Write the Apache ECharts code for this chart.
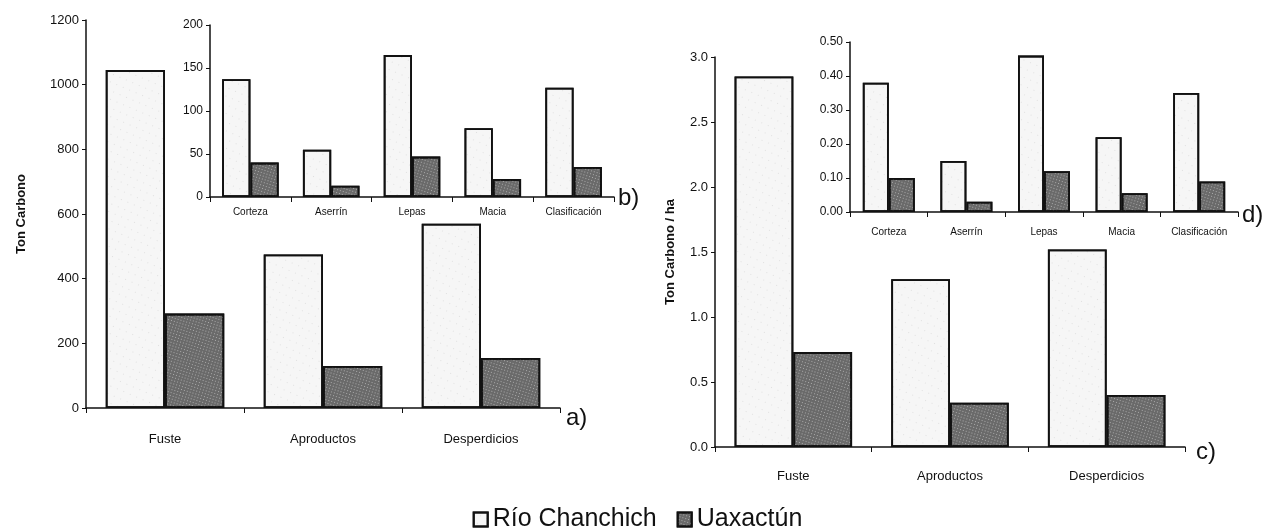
<!DOCTYPE html>
<html>
<head>
<meta charset="utf-8">
<script src="https://cdn.jsdelivr.net/npm/echarts@6/dist/echarts.min.js"></script>
<style>
  html, body { margin: 0; padding: 0; background: #fff; }
  #chart { width: 1275px; height: 529px; }
</style>
</head>
<body>
<div id="chart"></div>
<script>
// ---- data ----
const categoriesMain = ['Fuste', 'Aproductos', 'Desperdicios'];
const categoriesInset = ['Corteza', 'Aserrín', 'Lepas', 'Macia', 'Clasificación'];
const seriesNames = ['Río Chanchich', 'Uaxactún'];

// a) Ton Carbono
const rioTon = [1045, 475, 570];
const uaxTon = [292, 130, 155];
// b) Ton Carbono (inset)
const rioTonInset = [137, 55, 165, 80, 127];
const uaxTonInset = [40, 13, 47, 21, 35];
// c) Ton Carbono / ha
const rioHa = [2.85, 1.29, 1.52];
const uaxHa = [0.73, 0.34, 0.40];
// d) Ton Carbono / ha (inset)
const rioHaInset = [0.38, 0.15, 0.46, 0.22, 0.35];
const uaxHaInset = [0.10, 0.03, 0.12, 0.055, 0.09];

const yTicksA = { min: 0, max: 1200, interval: 200 };
const yTicksB = { min: 0, max: 200, interval: 50 };
const yTicksC = { min: 0, max: 3, interval: 0.5 };
const yTicksD = { min: 0, max: 0.5, interval: 0.1 };

// ---- styles ----
const FONT = '"Liberation Sans", Arial, sans-serif';
const rioStyle = {
  color: '#f6f6f6', borderColor: '#111', borderWidth: 1.8,
  decal: { symbol: 'circle', symbolSize: 0.6, dashArrayX: [1, 6], dashArrayY: [1, 7], rotation: 0.4, color: 'rgba(0,0,0,0.4)' }
};
const uaxStyle = {
  color: '#6a6a6a', borderColor: '#111', borderWidth: 1.8,
  decal: { symbol: 'rect', symbolSize: 0.9, dashArrayX: [1, 2], dashArrayY: [1, 2], rotation: 0.3, color: 'rgba(225,225,225,0.6)' }
};

const axisLine = { show: true, lineStyle: { color: '#111', width: 1.5 } };

function xAxis(gridIndex, data, fontSize, margin) {
  return {
    type: 'category', gridIndex, data,
    axisLine, axisTick: { show: true, length: 5, lineStyle: { color: '#111' } },
    axisLabel: { color: '#111', fontSize, fontFamily: FONT, margin },
    splitLine: { show: false }
  };
}
function yAxis(gridIndex, ticks, fontSize, digits, name, nameGap) {
  return {
    type: 'value', gridIndex, min: ticks.min, max: ticks.max, interval: ticks.interval,
    axisLine, axisTick: { show: true, length: 4, lineStyle: { color: '#111' } },
    axisLabel: { color: '#111', fontSize, fontFamily: FONT, margin: 7,
      formatter: v => v.toFixed(digits) },
    splitLine: { show: false },
    name: name || '', nameLocation: 'middle', nameGap: nameGap || 0,
    nameTextStyle: { color: '#111', fontSize: 13, fontWeight: 'bold', fontFamily: FONT }
  };
}
function bars(idx, rio, uax, gap) {
  return [
    { name: seriesNames[0], type: 'bar', xAxisIndex: idx, yAxisIndex: idx, data: rio,
      barGap: '0%', barCategoryGap: gap, itemStyle: rioStyle },
    { name: seriesNames[1], type: 'bar', xAxisIndex: idx, yAxisIndex: idx, data: uax,
      barGap: '0%', barCategoryGap: gap, itemStyle: uaxStyle }
  ];
}

const chart = echarts.init(document.getElementById('chart'), null, { renderer: 'canvas' });
chart.setOption({
  backgroundColor: '#fff',
  animation: false,
  legend: {
    data: seriesNames, top: 502, left: 'center', icon: 'rect',
    itemWidth: 14, itemHeight: 14, itemGap: 20,
    textStyle: { fontSize: 25, color: '#111', fontFamily: FONT }
  },
  grid: [
    { left: 86, top: 20, width: 474, height: 388 },
    { left: 210, top: 25, width: 404, height: 172 },
    { left: 715, top: 57, width: 470, height: 390 },
    { left: 850, top: 42, width: 388, height: 170 }
  ],
  xAxis: [
    xAxis(0, categoriesMain, 13, 25),
    xAxis(1, categoriesInset, 10, 10),
    xAxis(2, categoriesMain, 13, 23),
    xAxis(3, categoriesInset, 10, 15)
  ],
  yAxis: [
    yAxis(0, yTicksA, 13, 0, 'Ton Carbono', 58),
    yAxis(1, yTicksB, 12, 0),
    yAxis(2, yTicksC, 13, 1, 'Ton Carbono / ha', 38),
    yAxis(3, yTicksD, 12, 2)
  ],
  series: [].concat(
    bars(0, rioTon, uaxTon, '25%'),
    bars(1, rioTonInset, uaxTonInset, '30%'),
    bars(2, rioHa, uaxHa, '25%'),
    bars(3, rioHaInset, uaxHaInset, '33%')
  ),
  graphic: [
    { type: 'text', left: 566, top: 406, style: { text: 'a)', fontSize: 24, fill: '#111', fontFamily: FONT } },
    { type: 'text', left: 618, top: 186, style: { text: 'b)', fontSize: 24, fill: '#111', fontFamily: FONT } },
    { type: 'text', left: 1196, top: 440, style: { text: 'c)', fontSize: 24, fill: '#111', fontFamily: FONT } },
    { type: 'text', left: 1242, top: 203, style: { text: 'd)', fontSize: 24, fill: '#111', fontFamily: FONT } }
  ]
});
</script>
</body>
</html>
